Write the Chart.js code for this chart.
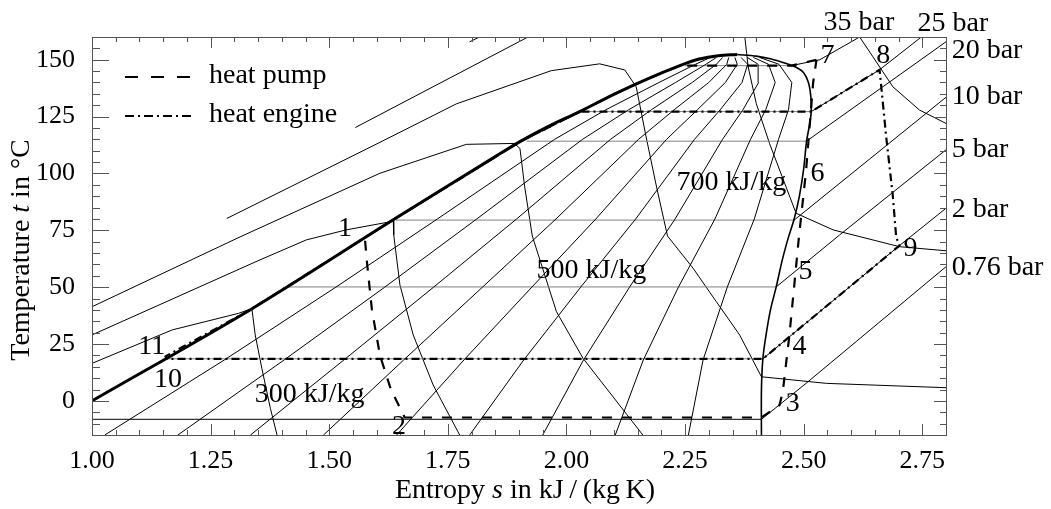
<!DOCTYPE html>
<html>
<head>
<meta charset="utf-8">
<script src="https://cdn.jsdelivr.net/npm/chart.js@4"></script>
<style>
  html, body { margin: 0; padding: 0; background: #fff; }
</style>
</head>
<body>
<canvas id="myChart" width="1051" height="509"></canvas>
<script>
// T-s diagram (n-butane), every point is [entropy s, temperature t]
const xTicks = [1.00, 1.25, 1.50, 1.75, 2.00, 2.25, 2.50, 2.75];
const yTicks = [0, 25, 50, 75, 100, 125, 150];

// saturation dome
const satLiquid = [[1.00,0],[1.333,40],[1.634,79.5],[1.85,107.4],[1.902,114],[1.96,120.5],[2.028,127.2],[2.1,134.8],
                   [2.17,141.5],[2.239,147.4],[2.28,150.3],[2.32,151.8],[2.36,152.3]];
const satVapor = [[2.36,152.3],[2.4,151.6],[2.43,150.4],[2.465,148.2],[2.485,146.6],[2.5,144.3],[2.51,140],[2.515,134],
                  [2.516,127.2],[2.512,121],[2.506,114],[2.5,102],[2.491,90],[2.48,80],[2.468,72],[2.455,62],[2.442,50],
                  [2.43,40],[2.42,28],[2.414,18.5],[2.411,5],[2.411,-15]];

// lines of constant vapour quality 0.1 ... 0.9
const qual1 = [[1.027,-15],[1.279,18],[1.514,50],[1.728,80],[1.975,115],[2.083,128],[2.195,140],[2.272,148],[2.303,151]];
const qual2 = [[1.181,-15],[1.405,18],[1.617,50],[1.811,80],[2.034,115],[2.131,128],[2.23,140],[2.294,148],[2.316,151]];
const qual3 = [[1.334,-15],[1.531,18],[1.72,50],[1.895,80],[2.093,115],[2.179,128],[2.265,140],[2.316,148],[2.329,151]];
const qual4 = [[1.488,-15],[1.657,18],[1.823,50],[1.978,80],[2.152,115],[2.227,128],[2.3,140],[2.338,148],[2.342,151]];
const qual5 = [[1.642,-15],[1.784,18],[1.927,50],[2.062,80],[2.211,115],[2.276,128],[2.335,140],[2.36,148],[2.355,151]];
const qual6 = [[1.796,-15],[1.91,18],[2.03,50],[2.146,80],[2.27,115],[2.324,128],[2.37,140],[2.382,148],[2.368,151]];
const qual7 = [[1.95,-15],[2.036,18],[2.133,50],[2.229,80],[2.329,115],[2.372,128],[2.405,140],[2.404,148],[2.381,151]];
const qual8 = [[2.103,-15],[2.162,18],[2.236,50],[2.313,80],[2.388,115],[2.42,128],[2.44,140],[2.426,148],[2.394,151]];
const qual9 = [[2.257,-15],[2.288,18],[2.339,50],[2.396,80],[2.447,115],[2.468,128],[2.475,140],[2.448,148],[2.407,151]];

// isobars: two-phase part, then superheated part
const bar076 = [[1.00,-8.1],[2.411,-8.1],[2.505,7.7],[2.8,59]];
const bar2 = [[1.157,18.5],[2.414,18.5],[2.702,68.3],[2.8,84.7]];
const bar5 = [[1.411,50.1],[2.442,50.1],[2.576,73],[2.8,110.4]];
const bar10 = [[1.64,79.5],[2.48,79.5],[2.8,133.5]];
const bar20 = [[1.916,114.2],[2.506,114.2],[2.8,157.9]];
const bar25 = [[2.035,127.2],[2.516,127.2],[2.66,145.6],[2.748,160]];
const bar35 = [[2.25,147.4],[2.474,147.4],[2.534,150],[2.618,160]];

// isenthalps (kJ/kg)
const h300 = [[1.00,16.5],[1.169,31.2],[1.309,38.5],[1.337,40.6],[1.344,29],[1.358,14.3],[1.376,-3.3],[1.39,-15]];
const h400 = [[1.00,29],[1.354,62],[1.452,70.8],[1.536,75.2],[1.635,79],[1.636,73],[1.649,51],[1.677,29],[1.719,7],[1.775,-15]];
const h500 = [[1.00,41.4],[1.312,72.1],[1.607,100.1],[1.789,112.8],[1.89,113.2],[1.902,111],[1.912,94.1],[1.928,72.5],
              [1.979,39.2],[2.035,18.7],[2.161,-15]];
const h600 = [[1.284,80.2],[1.607,113.7],[1.768,130.6],[1.968,145.2],[2.07,148.2],[2.123,145.5],[2.147,138.1],[2.168,116],
              [2.19,94],[2.213,72.5],[2.267,58.3],[2.316,43.6],[2.365,29],[2.411,10.6],[2.548,7.7],[2.8,5.8]];
const h700liq = [[1.555,120.2],[1.919,160]];
const h700 = [[2.376,160],[2.383,146.9],[2.4,130.8],[2.428,113.2],[2.484,82.5],[2.562,75.2],[2.702,67.8],[2.8,66]];
const h800liq = [[1.796,157.9],[1.817,160]];
const h800 = [[2.618,160],[2.646,151.3],[2.688,138.1],[2.744,127.9],[2.8,122]];

// the two cycles
const heatPump = [[2.527,150],[2.474,147.4],[2.239,147.4],[2.17,141.5],[2.1,134.8],[2.028,127.2],[1.902,114],[1.634,79.5],
                  [1.575,71.8],[1.58,60],[1.59,40],[1.607,20],[1.63,5],[1.659,-7.3],[2.411,-7.3],[2.449,-1.9],[2.456,4],
                  [2.47,29],[2.49,72],[2.505,101],[2.52,140],[2.527,150]];
const heatEngine = [[1.158,18.5],[1.155,19.6],[1.333,40],[1.634,79.5],[1.902,114],[2.028,127.2],[2.516,127.2],[2.66,145.6],
                    [2.674,116],[2.688,90],[2.695,72],[2.702,68.3],[2.414,18.5],[1.158,18.5]];

const serif = 'Liberation Serif';
const toXY = arr => arr.map(p => ({x: p[0], y: p[1]}));
const isoGray = '#808080';

function thin(data) {
  return {data: toXY(data), borderColor: '#000', borderWidth: 1, order: 3};
}
function isobar(data) {
  // two-phase (horizontal) stretch in gray, except the lowest one which is dark
  return {data: toXY(data), borderColor: '#000', borderWidth: 1, order: 3,
          segment: {borderColor: c => (c.p0.parsed.y === c.p1.parsed.y && c.p0.parsed.y > 0) ? isoGray : '#000'}};
}

const datasets = [
  {label: 'heat pump', data: toXY(heatPump), borderColor: '#000', borderWidth: 2.2, borderDash: [10, 10], order: 0},
  {label: 'heat engine', data: toXY(heatEngine), borderColor: '#000', borderWidth: 2.2, borderDash: [8, 4, 2, 4], order: 0},
  {data: toXY(satLiquid), borderColor: '#000', borderWidth: 3, order: 1, tension: 0.3},
  {data: toXY(satVapor), borderColor: '#000', borderWidth: 1.6, order: 1, tension: 0.3},
  ...[qual1, qual2, qual3, qual4, qual5, qual6, qual7, qual8, qual9].map(thin),
  ...[bar076, bar2, bar5, bar10, bar20, bar25, bar35].map(isobar),
  ...[h300, h400, h500, h600, h700liq, h700, h800liq, h800].map(thin)
];

// annotation texts, anchored in data units [text, s, t]
const pointLabels = [['1',1.533,72.3],['2',1.647,-14.4],['3',2.477,-4.3],['4',2.491,20.4],['5',2.504,53.8],['6',2.529,96.5],
                     ['7',2.55,148.5],['8',2.668,148.5],['9',2.725,63.5],['10',1.16,6.3],['11',1.126,20.8]];
const curveLabels = [['300 kJ/kg',1.343,-0.3],['500 kJ/kg',1.937,53.9],['700 kJ/kg',2.232,92.9],
                     ['35 bar',2.542,162.9],['25 bar',2.74,162.6],['20 bar',2.812,150.7],['10 bar',2.812,130.6],
                     ['5 bar',2.812,107.4],['2 bar',2.812,81],['0.76 bar',2.812,55.4]];

function richText(ctx, parts, size) {
  let w = 0;
  parts.forEach(p => { ctx.font = (p[1] ? 'italic ' : '') + size + 'px "' + serif + '"'; w += ctx.measureText(p[0]).width; });
  return w;
}
function drawRich(ctx, parts, size, x0, y0) {
  let x = x0;
  parts.forEach(p => {
    ctx.font = (p[1] ? 'italic ' : '') + size + 'px "' + serif + '"';
    ctx.fillText(p[0], x, y0);
    x += ctx.measureText(p[0]).width;
  });
}

const decor = {
  id: 'decor',
  afterDraw(chart) {
    const {ctx, chartArea: a, scales: {x, y}} = chart;
    ctx.save();
    // frame and inward ticks
    ctx.strokeStyle = '#555';
    ctx.lineWidth = 1;
    ctx.strokeRect(a.left + 0.5, a.top + 0.5, a.right - a.left, a.bottom - a.top);
    ctx.beginPath();
    for (let i = 0; i <= 36; i++) {
      const v = 1 + i * 0.05;
      const px = Math.round(x.getPixelForValue(v)) + 0.5;
      const len = i % 5 === 0 ? 11 : 5;
      ctx.moveTo(px, a.bottom); ctx.lineTo(px, a.bottom - len);
      ctx.moveTo(px, a.top); ctx.lineTo(px, a.top + len);
    }
    for (let v = -15; v <= 160; v += 5) {
      const py = Math.round(y.getPixelForValue(v)) + 0.5;
      const major = v % 25 === 0;
      ctx.moveTo(a.left, py); ctx.lineTo(a.left + (major ? 17 : 8), py);
      ctx.moveTo(a.right, py); ctx.lineTo(a.right - (major ? 12 : 6), py);
    }
    ctx.stroke();

    ctx.fillStyle = '#000';
    ctx.textBaseline = 'alphabetic';
    // axis titles
    const xt = [['Entropy ', false], ['s', true], [' in kJ\u2009/\u2009(kg\u2009K)', false]];
    drawRich(ctx, xt, 28, 525 - richText(ctx, xt, 28) / 2, 498);
    const yt = [['Temperature ', false], ['t', true], [' in \u00B0C', false]];
    ctx.save();
    ctx.translate(28.5, 250);
    ctx.rotate(-Math.PI / 2);
    drawRich(ctx, yt, 28, -richText(ctx, yt, 28) / 2, 0);
    ctx.restore();

    // labels
    ctx.font = '28px "' + serif + '"';
    ctx.textAlign = 'center';
    pointLabels.forEach(l => ctx.fillText(l[0], x.getPixelForValue(l[1]), y.getPixelForValue(l[2])));
    ctx.textAlign = 'left';
    curveLabels.forEach(l => ctx.fillText(l[0], x.getPixelForValue(l[1]), y.getPixelForValue(l[2])));

    // legend
    ctx.strokeStyle = '#000';
    ctx.lineWidth = 2.2;
    ctx.setLineDash([13, 13]);
    ctx.beginPath(); ctx.moveTo(125, 77); ctx.lineTo(191, 77); ctx.stroke();
    ctx.setLineDash([9, 4, 2, 4]);
    ctx.beginPath(); ctx.moveTo(125, 116); ctx.lineTo(192, 116); ctx.stroke();
    ctx.setLineDash([]);
    ctx.fillText('heat pump', 209, 83);
    ctx.fillText('heat engine', 209, 122);
    ctx.restore();
  }
};

const ctx = document.getElementById('myChart').getContext('2d');
const myChart = new Chart(ctx, {
  type: 'scatter',
  data: {datasets: datasets},
  options: {
    responsive: false,
    animation: false,
    showLine: true,
    elements: {point: {radius: 0}, line: {tension: 0, fill: false}},
    layout: {padding: {top: 37, right: 105, left: 0, bottom: 0}},
    plugins: {legend: {display: false}, tooltip: {enabled: false}},
    scales: {
      x: {
        type: 'linear', min: 1.0, max: 2.8,
        grid: {display: false}, border: {display: false},
        afterBuildTicks: s => { s.ticks = xTicks.map(v => ({value: v})); },
        afterFit: s => { s.height = 74; },
        ticks: {font: {family: serif, size: 26}, color: '#000', padding: 3, maxRotation: 0, autoSkip: false,
                callback: v => Number(v).toFixed(2)}
      },
      y: {
        type: 'linear', min: -15, max: 160,
        grid: {display: false}, border: {display: false},
        afterBuildTicks: s => { s.ticks = yTicks.map(v => ({value: v})); },
        afterFit: s => { s.width = 92; },
        ticks: {font: {family: serif, size: 26}, color: '#000', padding: 9, autoSkip: false,
                callback: v => String(v)}
      }
    }
  },
  plugins: [decor]
});
</script>
</body>
</html>
